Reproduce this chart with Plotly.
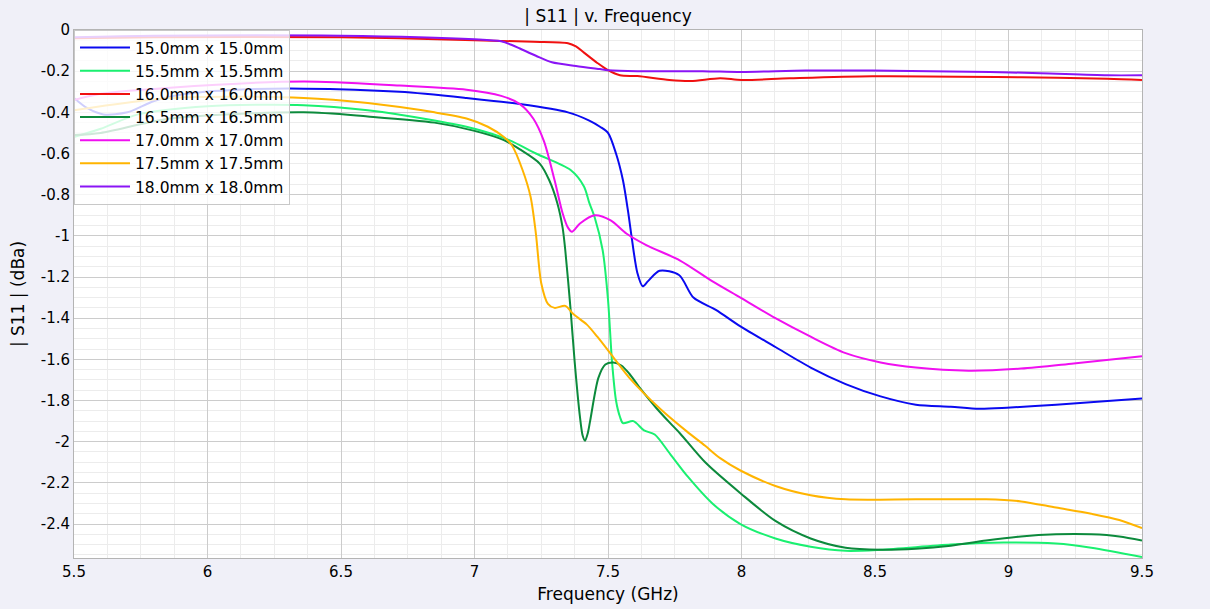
import plotly.graph_objects as go

# ---- data ----
names = ["15.0mm x 15.0mm", "15.5mm x 15.5mm", "16.0mm x 16.0mm", "16.5mm x 16.5mm",
         "17.0mm x 17.0mm", "17.5mm x 17.5mm", "18.0mm x 18.0mm"]
colors = ["#0a0af0", "#1af070", "#f01010", "#0c8a3c", "#f010f0", "#ffb400", "#8a14f5"]

f_150 = [5.5, 5.55, 5.61, 5.70, 5.80, 5.92, 6.11, 6.36, 6.72, 6.97, 7.17, 7.35, 7.43, 7.47, 7.50,
         7.53, 7.556, 7.575, 7.59, 7.61, 7.63, 7.65, 7.693, 7.766, 7.82, 7.904, 7.996, 8.127,
         8.259, 8.39, 8.521, 8.653, 8.784, 8.889, 8.994, 9.178, 9.5]
s_150 = [-0.33, -0.38, -0.41, -0.40, -0.345, -0.31, -0.29, -0.285, -0.30, -0.33, -0.36, -0.40,
         -0.44, -0.47, -0.50, -0.60, -0.73, -0.88, -1.02, -1.18, -1.245, -1.22, -1.17, -1.19,
         -1.30, -1.36, -1.44, -1.54, -1.64, -1.72, -1.78, -1.82, -1.83, -1.84, -1.835, -1.82,
         -1.79]

f_155 = [5.5, 5.6, 5.74, 6.0, 6.36, 6.6, 6.85, 7.0, 7.13, 7.23, 7.36, 7.41, 7.43, 7.45, 7.48,
         7.50, 7.515, 7.53, 7.545, 7.556, 7.595, 7.635, 7.675, 7.733, 7.799, 7.891, 7.996,
         8.127, 8.259, 8.39, 8.521, 8.784, 8.981, 9.178, 9.31, 9.5]
s_155 = [-0.52, -0.48, -0.41, -0.37, -0.365, -0.39, -0.44, -0.48, -0.535, -0.60, -0.68, -0.76,
         -0.84, -0.91, -1.07, -1.31, -1.61, -1.80, -1.88, -1.91, -1.90, -1.945, -1.965, -2.06,
         -2.17, -2.30, -2.40, -2.47, -2.51, -2.53, -2.525, -2.50, -2.49, -2.495, -2.515, -2.56]

f_160 = [5.5, 5.8, 6.5, 6.72, 7.0, 7.22, 7.35, 7.38, 7.41, 7.46, 7.50, 7.545, 7.61, 7.73, 7.81,
         7.92, 8.0, 8.18, 8.49, 9.05, 9.37, 9.5]
s_160 = [-0.04, -0.035, -0.035, -0.04, -0.05, -0.057, -0.064, -0.08, -0.11, -0.16, -0.195,
         -0.22, -0.224, -0.243, -0.248, -0.234, -0.243, -0.235, -0.225, -0.23, -0.237, -0.243]

f_165 = [5.5, 5.6, 5.86, 6.36, 6.6, 6.85, 7.0, 7.11, 7.17, 7.245, 7.28, 7.31, 7.33, 7.34, 7.36,
         7.375, 7.395, 7.405, 7.414, 7.424, 7.433, 7.464, 7.49, 7.52, 7.55, 7.58, 7.62, 7.68,
         7.733, 7.77, 7.864, 7.996, 8.127, 8.259, 8.39, 8.521, 8.653, 8.784, 8.916, 9.047,
         9.178, 9.31, 9.415, 9.5]
s_165 = [-0.51, -0.50, -0.43, -0.40, -0.42, -0.45, -0.49, -0.535, -0.58, -0.65, -0.73, -0.84,
         -0.96, -1.07, -1.36, -1.61, -1.88, -1.97, -1.995, -1.96, -1.90, -1.69, -1.625, -1.615,
         -1.63, -1.67, -1.74, -1.835, -1.91, -1.96, -2.10, -2.25, -2.385, -2.47, -2.515,
         -2.525, -2.52, -2.505, -2.48, -2.46, -2.45, -2.45, -2.46, -2.48]

f_170 = [5.5, 5.6, 5.86, 6.36, 6.72, 6.97, 7.1, 7.17, 7.22, 7.26, 7.30, 7.33, 7.35, 7.365,
         7.395, 7.45, 7.51, 7.57, 7.645, 7.77, 7.89, 7.996, 8.127, 8.259, 8.39, 8.521, 8.653,
         8.85, 9.047, 9.244, 9.5]
s_170 = [-0.34, -0.31, -0.28, -0.25, -0.27, -0.29, -0.32, -0.36, -0.43, -0.54, -0.73, -0.89,
         -0.96, -0.98, -0.94, -0.90, -0.925, -0.99, -1.046, -1.12, -1.22, -1.30, -1.40, -1.49,
         -1.57, -1.615, -1.64, -1.655, -1.645, -1.62, -1.585]

f_175 = [5.5, 5.86, 6.36, 6.6, 6.85, 6.97, 7.05, 7.11, 7.14, 7.18, 7.21, 7.23, 7.25, 7.275,
         7.30, 7.34, 7.37, 7.42, 7.46, 7.52, 7.58, 7.695, 7.795, 7.864, 7.92, 7.996, 8.127,
         8.259, 8.39, 8.653, 8.916, 9.047, 9.178, 9.31, 9.415, 9.5]
s_175 = [-0.39, -0.33, -0.33, -0.355, -0.40, -0.43, -0.47, -0.52, -0.56, -0.68, -0.81, -0.99,
         -1.23, -1.33, -1.35, -1.34, -1.38, -1.43, -1.49, -1.59, -1.69, -1.84, -1.95, -2.02,
         -2.08, -2.14, -2.215, -2.26, -2.28, -2.28, -2.28, -2.29, -2.32, -2.35, -2.38, -2.42]

f_180 = [5.5, 5.8, 6.5, 7.0, 7.1, 7.14, 7.17, 7.23, 7.29, 7.38, 7.47, 7.50, 7.61, 7.855, 8.0,
         8.24, 8.49, 8.93, 9.12, 9.37, 9.5]
s_180 = [-0.035, -0.028, -0.028, -0.045, -0.055, -0.073, -0.09, -0.125, -0.157, -0.175, -0.19,
         -0.195, -0.20, -0.20, -0.204, -0.197, -0.197, -0.204, -0.21, -0.22, -0.22]

freqs = [f_150, f_155, f_160, f_165, f_170, f_175, f_180]
vals = [s_150, s_155, s_160, s_165, s_170, s_175, s_180]

x_ticks = [5.5, 6, 6.5, 7, 7.5, 8, 8.5, 9, 9.5]
x_tick_text = ["5.5", "6", "6.5", "7", "7.5", "8", "8.5", "9", "9.5"]
y_ticks = [0, -0.2, -0.4, -0.6, -0.8, -1, -1.2, -1.4, -1.6, -1.8, -2, -2.2, -2.4]
y_tick_text = ["0", "-0.2", "-0.4", "-0.6", "-0.8", "-1", "-1.2", "-1.4", "-1.6", "-1.8",
               "-2", "-2.2", "-2.4"]

FONT = "DejaVu Sans"

fig = go.Figure()
for n, c, fx, v in zip(names, colors, freqs, vals):
    fig.add_trace(go.Scatter(x=fx, y=v, mode="lines", name=n,
                             line=dict(color=c, width=2, shape="spline", smoothing=0.8)))

fig.update_layout(
    width=1210, height=609,
    margin=dict(l=74, r=68, t=30, b=51),
    paper_bgcolor="#f0f0f8",
    plot_bgcolor="#ffffff",
    font=dict(family=FONT, size=15, color="#000000"),
    title=dict(text="| S11 | v. Frequency", x=0.5025, xanchor="center", y=0.973, yanchor="middle",
               font=dict(family=FONT, size=17, color="#000000")),
    legend=dict(x=0, y=1, xanchor="left", yanchor="top", itemwidth=50,
                bgcolor="rgba(255,255,255,0.8)", bordercolor="#c8c8c8", borderwidth=1,
                font=dict(family=FONT, size=15.5, color="#000000")),
    showlegend=True,
)
fig.update_xaxes(
    range=[5.5, 9.5], tickmode="array", tickvals=x_ticks, ticktext=x_tick_text,
    showgrid=True, gridcolor="#cccccc", gridwidth=1,
    minor=dict(dtick=0.125, showgrid=True, gridcolor="#ececec", gridwidth=1),
    showline=True, linecolor="#b4b4b4", linewidth=1, mirror=True,
    zeroline=False, ticks="", automargin=False,
    title=dict(text="Frequency (GHz)", font=dict(family=FONT, size=17), standoff=8),
    tickfont=dict(family=FONT, size=15),
)
fig.update_yaxes(
    range=[-2.565, 0], tickmode="array", tickvals=y_ticks, ticktext=y_tick_text,
    showgrid=True, gridcolor="#cccccc", gridwidth=1,
    minor=dict(dtick=0.05, showgrid=True, gridcolor="#ececec", gridwidth=1),
    showline=True, linecolor="#b4b4b4", linewidth=1, mirror=True,
    zeroline=False, ticks="", automargin=False,
    title=dict(text="| S11 | (dBa)", font=dict(family=FONT, size=17), standoff=11),
    tickfont=dict(family=FONT, size=15),
)

fig.write_html("out.html")
